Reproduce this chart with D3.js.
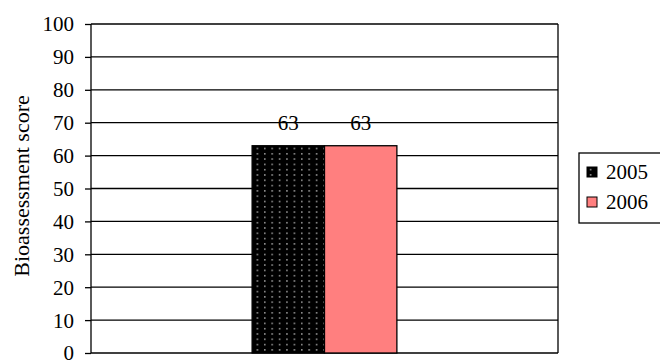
<!DOCTYPE html>
<html>
<head>
<meta charset="utf-8">
<script src="https://cdn.jsdelivr.net/npm/d3@7"></script>
<style>
  body { margin: 0; background: #fff; }
  svg { display: block; }
  svg text { font-family: "Liberation Serif", "Times New Roman", serif; fill: #000; }
</style>
</head>
<body>
<div id="chart"></div>
<script>
const categories = [''];
const years = ['2005', '2006'];
const values2005 = [63];
const values2006 = [63];
const yTicks = [0, 10, 20, 30, 40, 50, 60, 70, 80, 90, 100];

const W = 660, H = 360;
const margin = { top: 24, right: 102, bottom: 7, left: 91 };
const width = W - margin.left - margin.right;
const height = H - margin.top - margin.bottom;

const svg = d3.select('#chart').append('svg')
  .attr('width', W)
  .attr('height', H);

// dotted fill for 2005
const defs = svg.append('defs');
const pat = defs.append('pattern')
  .attr('id', 'dots')
  .attr('patternUnits', 'userSpaceOnUse')
  .attr('width', 7.4)
  .attr('height', 5.3);
pat.append('rect').attr('width', 7.4).attr('height', 5.3).attr('fill', '#000');
pat.append('rect').attr('x', 3).attr('y', 2).attr('width', 1.2).attr('height', 1.2).attr('fill', '#fff');

const fills = { '2005': 'url(#dots)', '2006': '#ff7f7f' };

const g = svg.append('g').attr('transform', `translate(${margin.left},${margin.top})`);

const x = d3.scaleBand().domain(categories).range([0, width]);
const x1 = d3.scaleBand().domain(years).range([x.bandwidth() * 0.345, x.bandwidth() * 0.655]);
const y = d3.scaleLinear().domain([0, 100]).range([height, 0]);

// gridlines
g.append('g')
  .selectAll('line')
  .data(yTicks)
  .join('line')
  .attr('x1', 0).attr('x2', width)
  .attr('y1', d => y(d)).attr('y2', d => y(d))
  .attr('stroke', '#000').attr('stroke-width', 1.3);

// right border
g.append('line')
  .attr('x1', width).attr('x2', width)
  .attr('y1', 0).attr('y2', height)
  .attr('stroke', '#000').attr('stroke-width', 1.3);

// bars
const rows = categories.map((c, i) => ({ cat: c, vals: [values2005[i], values2006[i]] }));
rows.forEach(r => {
  const bars = g.append('g').attr('transform', `translate(${x(r.cat)},0)`);
  bars.selectAll('rect')
    .data(years.map((yr, j) => ({ yr, v: r.vals[j] })))
    .join('rect')
    .attr('x', d => x1(d.yr))
    .attr('y', d => y(d.v))
    .attr('width', x1.bandwidth())
    .attr('height', d => y(0) - y(d.v))
    .attr('fill', d => fills[d.yr])
    .attr('stroke', '#000')
    .attr('stroke-width', 1.3);
  bars.selectAll('text')
    .data(years.map((yr, j) => ({ yr, v: r.vals[j] })))
    .join('text')
    .attr('x', d => x1(d.yr) + x1.bandwidth() / 2)
    .attr('y', d => y(d.v) - 16)
    .attr('text-anchor', 'middle')
    .attr('font-size', 21)
    .text(d => d.v);
});

// y axis
const yAxis = g.append('g')
  .call(d3.axisLeft(y).tickValues(yTicks).tickSize(6).tickPadding(11));
yAxis.attr('font-family', null).attr('font-size', null);
yAxis.select('.domain').attr('stroke-width', 1.3).attr('d', `M0,0V${height}`);
yAxis.selectAll('.tick line').attr('stroke-width', 1.3);
yAxis.selectAll('.tick text')
  .attr('font-size', 21)
  .attr('dy', '0.33em');

// y label
svg.append('text')
  .attr('transform', `translate(29,186) rotate(-90)`)
  .attr('text-anchor', 'middle')
  .attr('font-size', 22)
  .text('Bioassessment score');

// legend
const leg = svg.append('g').attr('transform', 'translate(579,153)');
leg.append('rect')
  .attr('width', 82).attr('height', 70)
  .attr('fill', '#fff').attr('stroke', '#000').attr('stroke-width', 1.3);
years.forEach((yr, i) => {
  const item = leg.append('g').attr('transform', `translate(8,${14 + i * 30})`);
  item.append('rect')
    .attr('width', 10).attr('height', 10)
    .attr('fill', fills[yr]).attr('stroke', '#000').attr('stroke-width', 1);
  item.append('text')
    .attr('x', 19).attr('y', 12)
    .attr('font-size', 21)
    .text(yr);
});
</script>
</body>
</html>
